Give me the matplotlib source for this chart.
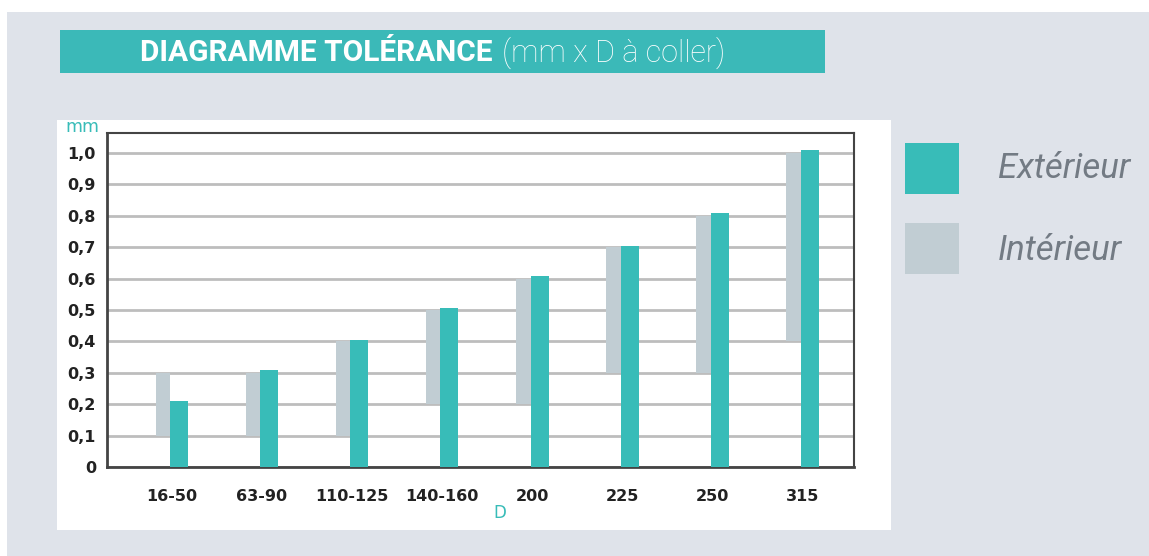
import matplotlib.pyplot as plt
from matplotlib.patches import Rectangle

categories = ["16-50", "63-90", "110-125", "140-160", "200", "225", "250", "315"]
exterieur = [0.21, 0.31, 0.405, 0.505, 0.61, 0.705, 0.81, 1.01]
interieur_min = [0.1, 0.1, 0.1, 0.2, 0.2, 0.3, 0.3, 0.4]
interieur_max = [0.3, 0.3, 0.4, 0.5, 0.6, 0.7, 0.8, 1.0]
yticks = [0, 0.1, 0.2, 0.3, 0.4, 0.5, 0.6, 0.7, 0.8, 0.9, 1.0]
ylabels = ["0", "0,1", "0,2", "0,3", "0,4", "0,5", "0,6", "0,7", "0,8", "0,9", "1,0"]

teal = "#38bcb8"
grey = "#c1cdd3"
bg = "#dfe3ea"

fig = plt.figure(figsize=(11.49, 5.56), dpi=100)
fig.patch.set_facecolor("white")

# page background, white panel, title band
fig.patches.append(Rectangle((7 / 1149, 0), 1, 1 - 12 / 556, transform=fig.transFigure,
                             facecolor=bg, edgecolor="none", zorder=0))
fig.patches.append(Rectangle((57 / 1149, 26 / 556), 834 / 1149, 410 / 556, transform=fig.transFigure,
                             facecolor="white", edgecolor="none", zorder=1))
fig.patches.append(Rectangle((60 / 1149, 483 / 556), 765 / 1149, 43 / 556, transform=fig.transFigure,
                             facecolor="#3bb9b8", edgecolor="none", zorder=1))

t1 = fig.text(140 / 1149, 503 / 556, "DIAGRAMME TOLÉRANCE", color="white", fontsize=21.5,
              fontweight="bold", family="Roboto", va="center", ha="left")
fig.canvas.draw()
bb = t1.get_window_extent()
fig.text(bb.x1 / 1149 + 0.008, 503 / 556, "(mm x D à coller)", color="white", fontsize=22,
         fontweight="light", family="Roboto", va="center", ha="left")

ax = fig.add_axes([107 / 1149, 89 / 556, 747 / 1149, 334 / 556])
ax.set_zorder(5)
ax.set_facecolor("white")
x = list(range(len(categories)))
heights = [hi - lo for lo, hi in zip(interieur_min, interieur_max)]
ax.bar([i - 0.1 for i in x], heights, bottom=interieur_min, width=0.16, color=grey, zorder=3)
ax.bar([i + 0.08 for i in x], exterieur, width=0.2, color=teal, zorder=3)

ax.set_xlim(-0.72, 7.57)
ax.set_ylim(0, 1.064)
ax.set_yticks(yticks)
ax.set_yticklabels(ylabels, fontsize=11.5, fontweight="bold", color="#222222")
ax.set_xticks(x)
ax.set_xticklabels(categories, fontsize=11.5, fontweight="bold", color="#222222")
ax.tick_params(axis="y", length=0, pad=8)
ax.tick_params(axis="x", length=0, pad=16)
ax.grid(axis="y", color="#bdbdbd", linewidth=2, zorder=1)
ax.set_axisbelow(True)
for s in ax.spines.values():
    s.set_color("#444444")
    s.set_linewidth(1.5)
ax.spines["left"].set_linewidth(2)
ax.spines["bottom"].set_linewidth(2)

fig.text(82 / 1149, 429 / 556, "mm", color=teal, fontsize=12.5, ha="center", va="center")
fig.text(500 / 1149, 43 / 556, "D", color=teal, fontsize=12, ha="center", va="center")

# legend
fig.patches.append(Rectangle((905 / 1149, 362 / 556), 54 / 1149, 51 / 556, transform=fig.transFigure,
                             facecolor=teal, edgecolor="none", zorder=2))
fig.patches.append(Rectangle((905 / 1149, 282 / 556), 54 / 1149, 51 / 556, transform=fig.transFigure,
                             facecolor=grey, edgecolor="none", zorder=2))
fig.text(998 / 1149, 388 / 556, "Extérieur", color="#737b84", fontsize=25, style="italic",
         fontweight="normal", family="Roboto", va="center", ha="left")
fig.text(998 / 1149, 306 / 556, "Intérieur", color="#737b84", fontsize=25, style="italic",
         fontweight="normal", family="Roboto", va="center", ha="left")

fig.savefig("out.png", dpi=100)
